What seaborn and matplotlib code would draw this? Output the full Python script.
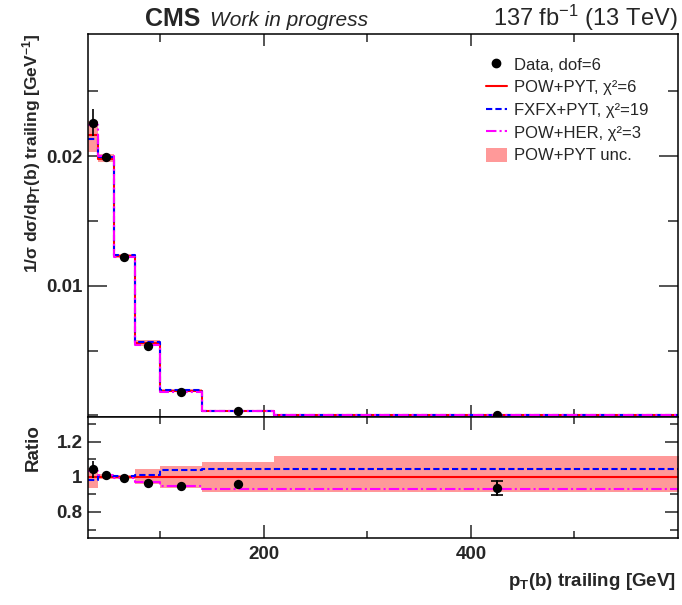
import numpy as np
import pandas as pd
import matplotlib
matplotlib.use("Agg")
import matplotlib.pyplot as plt
import seaborn as sns
from matplotlib.lines import Line2D
from matplotlib.patches import Patch
from matplotlib.ticker import FixedLocator, FuncFormatter

# ---------------- data ----------------
bin_edges = [30, 40, 55, 75, 100, 140, 210, 640]
point_x = [35, 47.5, 65, 87.5, 120, 175, 425]
pow_pyt = [0.02165, 0.0198, 0.01228, 0.00558, 0.0019, 0.000355, 0.00003]
data_ratio = [1.042, 1.008, 0.992, 0.962, 0.950, 0.958, 0.936]
data_ratio_err = [0.048, 0.012, 0.010, 0.013, 0.015, 0.022, 0.045]
data_ratio_stat = [0.0, 0.0, 0.0, 0.0, 0.0, 0.0, 0.038]
fxfx_ratio = [0.984, 1.005, 1.005, 1.012, 1.036, 1.046, 1.044]
her_ratio = [1.035, 1.012, 0.994, 0.968, 0.948, 0.930, 0.930]
unc_up = [1.048, 1.018, 1.012, 1.042, 1.062, 1.085, 1.12]
unc_dn = [0.938, 0.985, 0.988, 0.958, 0.935, 0.915, 0.915]
legend_labels = ["Data, dof=6", "POW+PYT, χ²=6", "FXFX+PYT, χ²=19",
                 "POW+HER, χ²=3", "POW+PYT unc."]
x_major_ticks = [200, 400]
x_minor_ticks = [100, 300, 500]

# ---------------- style ----------------
sns.set_style("ticks")
plt.rcParams["font.family"] = ["Liberation Sans", "DejaVu Sans"]
plt.rcParams["mathtext.fontset"] = "custom"
plt.rcParams["mathtext.rm"] = "Liberation Sans"
plt.rcParams["mathtext.bf"] = "Liberation Sans:bold"
plt.rcParams["mathtext.it"] = "Liberation Sans:italic"
plt.rcParams["axes.linewidth"] = 1.1
plt.rcParams["axes.edgecolor"] = "black"

RED, BLUE, MAG, BAND = "#ff0000", "#0000ff", "#ff00ff", "#ff9999"
LW = 1.5
DASH = (0, (3, 1.5))
DASHDOT = (0, (5, 1.5, 1, 1.5))

W, H = 682, 605
fig = plt.figure(figsize=(W / 100, H / 100), dpi=100)
ax = fig.add_axes([88 / W, 1 - 416.5 / H, 590 / W, (416.5 - 34) / H])
ax2 = fig.add_axes([88 / W, 1 - 538 / H, 590 / W, (538 - 416.5) / H], sharex=ax)

edges = np.array(bin_edges, dtype=float)
pw = np.array(pow_pyt)
fx = pw * np.array(fxfx_ratio)
hr = pw * np.array(her_ratio)
dat = pw * np.array(data_ratio)
dat_err = pw * np.array(data_ratio_err)


def ext(v):
    v = np.asarray(v, dtype=float)
    return np.append(v, v[-1])


def step(axis, vals, color, ls):
    sns.lineplot(x=edges, y=ext(vals), drawstyle="steps-post", estimator=None,
                 sort=False, ax=axis, color=color, linestyle=ls, lw=LW,
                 legend=False)


# ---------------- main panel ----------------
ax.fill_between(edges, ext(pw * np.array(unc_dn)), ext(pw * np.array(unc_up)),
                step="post", color=BAND, lw=0)
step(ax, pw, RED, "-")
step(ax, fx, BLUE, DASH)
step(ax, hr, MAG, DASHDOT)
ax.errorbar(point_x, dat, yerr=dat_err, fmt="none", ecolor="black", elinewidth=1.2)
sns.scatterplot(x=point_x, y=dat, ax=ax, color="black", s=45, edgecolor="black",
                linewidth=0, zorder=5, legend=False)

ax.set_xlim(30, 600)
ax.set_ylim(-0.000085, 0.02941)
ax.yaxis.set_major_locator(FixedLocator([0.01, 0.02]))
ax.yaxis.set_minor_locator(FixedLocator([0.0, 0.005, 0.015, 0.025]))
ax.yaxis.set_major_formatter(FuncFormatter(lambda v, p: f"{v:.2f}"))
ax.xaxis.set_major_locator(FixedLocator(x_major_ticks))
ax.xaxis.set_minor_locator(FixedLocator(x_minor_ticks))
ax.tick_params(axis="both", which="both", direction="in", top=True, right=True,
               width=1.1, labelsize=13.5, pad=4)
ax.tick_params(axis="y", which="major", length=13.7)
ax.tick_params(axis="y", which="minor", length=7.2)
ax.tick_params(axis="x", which="major", length=8.6)
ax.tick_params(axis="x", which="minor", length=5.5)
ax.tick_params(axis="x", labelbottom=False)
for t in ax.get_yticklabels():
    t.set_fontweight("bold")
ax.set_xlabel("")
ax.set_ylabel(r"1/σ dσ/dp$_{\mathbf{T}}$(b) trailing [GeV$^{\mathbf{-1}}$]",
              fontsize=12.5, fontweight="bold", loc="top")
ax.yaxis.set_label_coords(-0.0755, 1.0)

handles = [
    Line2D([], [], color="black", marker="o", markersize=6, linestyle="none"),
    Line2D([], [], color=RED, lw=LW),
    Line2D([], [], color=BLUE, lw=LW, linestyle=DASH),
    Line2D([], [], color=MAG, lw=LW, linestyle=DASHDOT),
    Patch(facecolor=BAND, edgecolor="none"),
]
ax.legend(handles, legend_labels, loc="upper left",
          bbox_to_anchor=(486 / W, 1 - 57 / H), bbox_transform=fig.transFigure,
          frameon=False, fontsize=12, handlelength=1.25, handletextpad=0.4,
          labelspacing=0.42, borderpad=0, borderaxespad=0, handleheight=0.9)

# ---------------- ratio panel ----------------
ones = np.ones(len(pw))
ax2.fill_between(edges, ext(unc_dn), ext(unc_up), step="post", color=BAND, lw=0)
step(ax2, ones, RED, "-")
step(ax2, fxfx_ratio, BLUE, DASH)
step(ax2, her_ratio, MAG, DASHDOT)
ax2.errorbar(point_x, data_ratio, yerr=data_ratio_err, fmt="none", ecolor="black",
             elinewidth=1.2)
ax2.errorbar(point_x[-1:], data_ratio[-1:], yerr=data_ratio_stat[-1:], fmt="none",
             ecolor="black", elinewidth=1.2, capsize=4, capthick=1.2)
sns.scatterplot(x=point_x, y=data_ratio, ax=ax2, color="black", s=45,
                linewidth=0, zorder=5, legend=False)

ax2.set_xlim(30, 600)
ax2.set_ylim(0.652, 1.342)
ax2.yaxis.set_major_locator(FixedLocator([0.8, 1.0, 1.2]))
ax2.yaxis.set_minor_locator(FixedLocator([0.7, 0.9, 1.1, 1.3]))
ax2.yaxis.set_major_formatter(FuncFormatter(lambda v, p: f"{v:g}"))
ax2.xaxis.set_major_locator(FixedLocator(x_major_ticks))
ax2.xaxis.set_minor_locator(FixedLocator(x_minor_ticks))
ax2.tick_params(axis="both", which="both", direction="in", top=True, right=True,
                width=1.1, labelsize=13.5)
ax2.tick_params(axis="y", which="major", length=9.4, pad=4)
ax2.tick_params(axis="y", which="minor", length=5.8)
ax2.tick_params(axis="x", which="major", length=9.4, pad=6)
ax2.tick_params(axis="x", which="minor", length=5.0)
for t in ax2.get_xticklabels() + ax2.get_yticklabels():
    t.set_fontweight("bold")
ax2.set_ylabel("Ratio", fontsize=13.5, fontweight="bold", loc="top")
ax2.yaxis.set_label_coords(-0.078, 0.94)
ax2.set_xlabel(r"p$_{\mathbf{T}}$(b) trailing [GeV]", fontsize=13.5,
               fontweight="bold", loc="right")
ax2.xaxis.set_label_coords(0.996, -0.27)

# ---------------- header ----------------
fig.text(145 / W, 1 - 26 / H, "CMS", fontsize=18, fontweight="bold", va="baseline")
fig.text(210 / W, 1 - 26 / H, "Work in progress", fontsize=15, style="italic",
         va="baseline")
fig.text(678 / W, 1 - 26 / H, r"137 fb$^{-1}$ (13 TeV)", fontsize=17, ha="right",
         va="baseline")

fig.savefig("out.png", dpi=100)
